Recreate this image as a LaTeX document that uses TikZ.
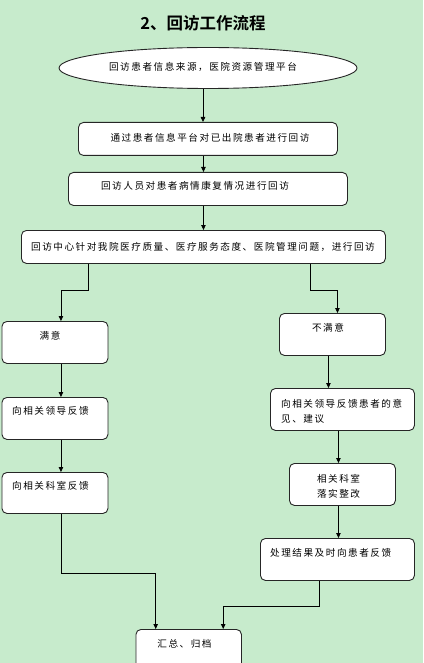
\documentclass[tikz,border=0pt]{standalone}
\usepackage{fontspec}
\newfontfamily\cjk[LetterSpace=16]{Noto Sans CJK SC}
\newfontfamily\titlefont{Noto Sans CJK SC}[UprightFont=* Bold]
\usetikzlibrary{shapes.geometric,arrows.meta}
\definecolor{bg}{RGB}{199,235,204}
\tikzset{
  box/.style={draw=black!85, line width=0.9pt, rounded corners=5pt, fill=white, inner sep=0, anchor=north west},
  txt/.style={inner sep=0, font=\cjk\fontsize{9.6}{15.5}\selectfont},
  arr/.style={line width=0.8pt, -{Triangle[length=5pt,width=4.5pt]}}
}
\begin{document}
\begin{tikzpicture}[x=1pt,y=-1pt]
\clip (0,0) rectangle (423,663);
\fill[bg] (0,0) rectangle (423,663);
\node[font=\titlefont\fontsize{16.5}{18}\selectfont] (title) at (203,23) {2、回访工作流程};
\node[ellipse, draw=black!85, line width=0.9pt, fill=white, minimum width=298, minimum height=41, inner sep=0] (src) at (208,68) {};
\node[box, minimum width=259, minimum height=33] (b1) at (78,122) {};
\node[box, minimum width=279, minimum height=33] (b2) at (68,172) {};
\node[box, minimum width=364, minimum height=33] (b3) at (21,230) {};
\node[box, minimum width=106, minimum height=42] (sat) at (1.5,321) {};
\node[box, minimum width=106, minimum height=42] (unsat) at (279,313) {};
\node[box, minimum width=106, minimum height=42] (l1) at (1.5,397) {};
\node[box, minimum width=106, minimum height=41] (l2) at (1.5,472) {};
\node[box, minimum width=144, minimum height=42] (r1) at (270,388) {};
\node[box, minimum width=106, minimum height=42] (r2) at (289,463) {};
\node[box, minimum width=154, minimum height=42] (r3) at (260,538) {};
\node[box, minimum width=105.5, minimum height=42] (fin) at (135.5,629) {};

\node[txt] (tsrc) at (203,67) {回访患者信息来源，医院资源管理平台};
\node[txt] (t1) at (210,138) {通过患者信息平台对已出院患者进行回访};
\node[txt] (t2) at (195,186) {回访人员对患者病情康复情况进行回访};
\node[txt] (t3) at (203,246.5) {回访中心针对我院医疗质量、医疗服务态度、医院管理问题，进行回访};
\node[txt] (tsat) at (50,336) {满意};
\node[txt] (tunsat) at (328,328) {不满意};
\node[txt, anchor=west] (tl1) at (12,411) {向相关领导反馈};
\node[txt, anchor=west] (tl2) at (12,486) {向相关科室反馈};
\node[txt, anchor=west, align=left] (tr1) at (281,411.5) {向相关领导反馈患者的意\\见、建议};
\node[txt, align=center] (tr2) at (338.5,486.5) {相关科室\\落实整改};
\node[txt, anchor=west] (tr3) at (270,553) {处理结果及时向患者反馈};
\node[txt] (tfin) at (184.5,644) {汇总、归档};

\draw[arr] ([xshift=-5]src.south) -- ([xshift=-5]src.south |- b1.north);
\draw[arr] ([xshift=-4.5]b1.south) -- ([xshift=-4.5]b1.south |- b2.north);
\draw[arr] ([xshift=-4.5]b2.south) -- ([xshift=-4.5]b2.south |- b3.north);
\draw[arr] ([xshift=67]b3.south west) -- ++(0,26) -| ([xshift=6]sat.north);
\draw[arr] ([xshift=-76]b3.south east) -- ++(0,26) -| ([xshift=5]unsat.north);
\draw[arr] ([xshift=6]sat.south) -- ([xshift=6]l1.north);
\draw[arr] ([xshift=6]l1.south) -- ([xshift=6]l2.north);
\draw[arr] ([xshift=-4]unsat.south) -- ([xshift=-4]unsat.south |- r1.north);
\draw[arr] ([xshift=-4]r1.south) -- ([xshift=-4]r1.south |- r2.north);
\draw[arr] ([xshift=-4]r2.south) -- ([xshift=-4]r2.south |- r3.north);
\draw[arr] ([xshift=6]l2.south) -- ++(0,59) -| ([xshift=-33]fin.north);
\draw[arr] ([xshift=-18]r3.south) -- ++(0,25) -| ([xshift=34.5]fin.north);
\end{tikzpicture}
\end{document}
